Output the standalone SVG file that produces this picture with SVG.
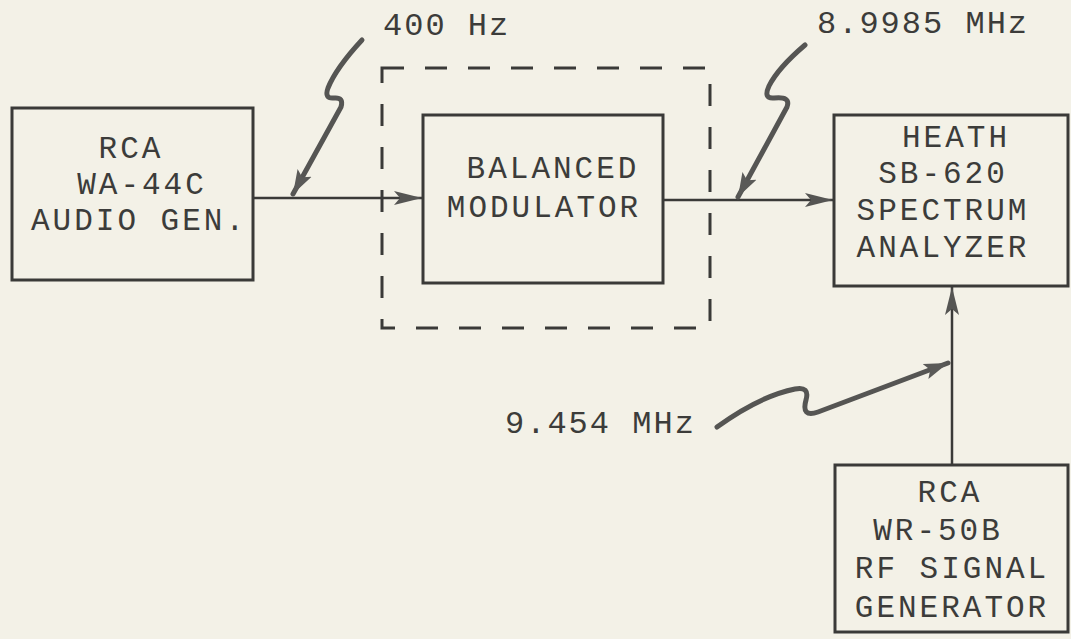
<svg xmlns="http://www.w3.org/2000/svg" width="1071" height="639" viewBox="0 0 1071 639">
<style>
.box{fill:none;stroke:#3a3a38;stroke-width:3}
.t{font-family:"Liberation Mono","DejaVu Sans Mono",monospace;font-size:31px;letter-spacing:3px;fill:#3c3c3a;text-anchor:middle}
.lbl{font-family:"Liberation Mono","DejaVu Sans Mono",monospace;font-size:32px;letter-spacing:2px;fill:#3c3c3a}
.wire{fill:none;stroke:#3a3a38;stroke-width:2.5}
.sq{fill:none;stroke:#555553;stroke-width:5;stroke-linecap:round;stroke-linejoin:round}
.dash{fill:none;stroke:#3a3a38;stroke-width:3;stroke-dasharray:22 21}
</style>
<defs>
<marker id="ah" markerUnits="userSpaceOnUse" markerWidth="30" markerHeight="16" refX="28" refY="8" orient="auto">
<path d="M0,1 L28,8 L0,15 L6,8 Z" fill="#555553"/>
</marker>
<marker id="ahs" markerUnits="userSpaceOnUse" markerWidth="28" markerHeight="18" refX="24" refY="9" orient="auto">
<path d="M0,1 L24,9 L0,17 L5,9 Z" fill="#5a5a58"/>
</marker>
</defs>
<rect x="0" y="0" width="1071" height="639" fill="#f3f1e7"/>
<g id="enclosure">
<rect class="dash" x="382" y="68" width="328" height="260"/>
</g>
<g id="audio-gen">
<rect class="box" x="12" y="108" width="241" height="172"/>
<text class="t" x="131" y="158">RCA</text>
<text class="t" x="142" y="194">WA-44C</text>
<text class="t" x="139" y="230">AUDIO GEN.</text>
</g>
<g id="balanced-modulator">
<rect class="box" x="423" y="115" width="240" height="168"/>
<text class="t" x="553" y="178">BALANCED</text>
<text class="t" x="544" y="217">MODULATOR</text>
</g>
<g id="spectrum-analyzer">
<rect class="box" x="834" y="115" width="234" height="171"/>
<text class="t" x="956" y="147">HEATH</text>
<text class="t" x="943" y="183">SB-620</text>
<text class="t" x="943" y="220">SPECTRUM</text>
<text class="t" x="943" y="257">ANALYZER</text>
</g>
<g id="rf-generator">
<rect class="box" x="835" y="465" width="233" height="167"/>
<text class="t" x="950" y="502">RCA</text>
<text class="t" x="938" y="540">WR-50B</text>
<text class="t" x="952" y="578">RF SIGNAL</text>
<text class="t" x="952" y="617">GENERATOR</text>
</g>
<g id="labels">
<text class="lbl" x="383" y="35">400 Hz</text>
<text class="lbl" x="817" y="33">8.9985 MHz</text>
<text class="lbl" x="505" y="433">9.454 MHz</text>
</g>
<g id="connectors">
<path class="wire" d="M253,198 L422,198" marker-end="url(#ah)"/>
<path class="wire" d="M663,200 L833,200" marker-end="url(#ah)"/>
<path class="wire" d="M952,465 L952,287" marker-end="url(#ah)"/>
<path class="sq" d="M362,40 Q336,68 328,88 Q324,99 334,98 Q344,97 341,107 L293,194" marker-end="url(#ahs)"/>
<path class="sq" d="M805,45 Q778,68 769,86 Q763,99 774,98 Q791,96 787,107 L738,197" marker-end="url(#ahs)"/>
<path class="sq" d="M717,427 Q760,396 795,389 Q810,386 806,400 Q801,418 818,412 L948,363" marker-end="url(#ahs)"/>
</g>
</svg>
